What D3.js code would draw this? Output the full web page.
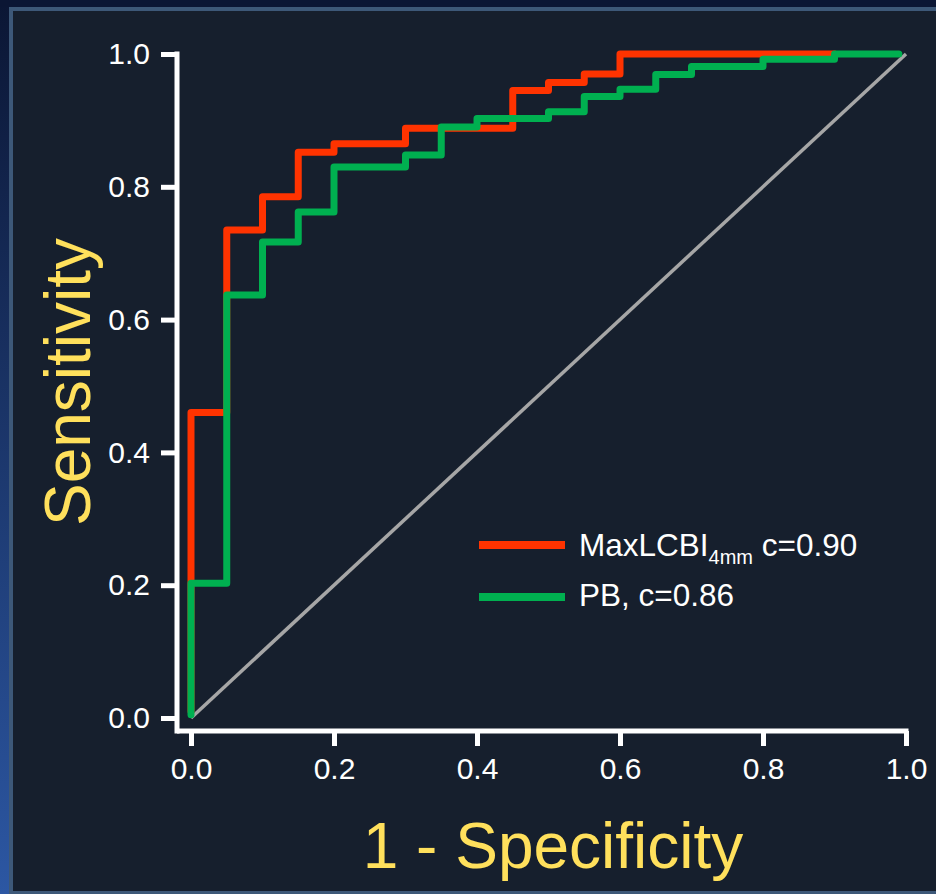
<!DOCTYPE html>
<html>
<head>
<meta charset="utf-8">
<script src="https://cdn.jsdelivr.net/npm/d3@7"></script>
<style>
  html, body { margin: 0; padding: 0; background: #0b1738; }
  svg { display: block; }
  text { font-family: "Liberation Sans", Arial, sans-serif; }
</style>
</head>
<body>
<div id="chart"></div>
<script>
// ROC step points (1 - specificity, sensitivity)
var redFpr   = [0, 0, 0.05, 0.10, 0.15, 0.20, 0.30, 0.45, 0.50, 0.55, 0.60, 0.90];
var redTpr   = [0.01, 0.46, 0.735, 0.785, 0.852, 0.865, 0.888, 0.945, 0.957, 0.970, 1.0, 1.0];
var greenFpr = [0, 0, 0.05, 0.10, 0.15, 0.20, 0.30, 0.35, 0.40, 0.50, 0.55, 0.60, 0.65, 0.70, 0.80, 0.90, 0.99];
var greenTpr = [0.005, 0.203, 0.637, 0.717, 0.762, 0.830, 0.848, 0.890, 0.903, 0.913, 0.936, 0.947, 0.969, 0.981, 0.992, 1.0, 1.0];
var refFpr   = [0, 1];
var refTpr   = [0, 1];
var tickVals = [0, 0.2, 0.4, 0.6, 0.8, 1.0];
var legendNames = ["MaxLCBI", "PB, c=0.86"];

var W = 936, H = 894;
var svg = d3.select("#chart").append("svg").attr("width", W).attr("height", H);

// background: outer gradient, border, inner panel
var defs = svg.append("defs");
var grad = defs.append("linearGradient").attr("id", "outer")
  .attr("x1", 0).attr("y1", 0).attr("x2", 0).attr("y2", 1);
grad.append("stop").attr("offset", "0%").attr("stop-color", "#0b1634");
grad.append("stop").attr("offset", "100%").attr("stop-color", "#2c57a3");
svg.append("rect").attr("width", W).attr("height", H).attr("fill", "url(#outer)");
svg.append("rect").attr("x", 0).attr("y", 0).attr("width", W).attr("height", 7).attr("fill", "#0b1634");
svg.append("rect").attr("x", 9).attr("y", 7).attr("width", W - 9).attr("height", H - 7).attr("fill", "#3d5878");
svg.append("rect").attr("x", 13).attr("y", 11).attr("width", W - 13).attr("height", H - 14).attr("fill", "#161f2d");

var x = d3.scaleLinear().domain([0, 1]).range([191, 906]);
var y = d3.scaleLinear().domain([0, 1]).range([718, 54]);
var axisX = 177, axisY = 731;

// y axis
var gy = svg.append("g").attr("transform", "translate(" + axisX + ",0)")
  .call(d3.axisLeft(y).tickValues(tickVals).tickSize(16).tickSizeOuter(0).tickPadding(11)
    .tickFormat(d3.format(".1f")));
gy.select(".domain").remove();
gy.selectAll(".tick line").attr("stroke", "#fff").attr("stroke-width", 5);
gy.selectAll(".tick text").attr("fill", "#fff").style("font-size", "30px");
gy.append("line").attr("x1", 0).attr("x2", 0).attr("y1", y(1) - 2.5).attr("y2", axisY + 2.5)
  .attr("stroke", "#fff").attr("stroke-width", 5);

// x axis
var gx = svg.append("g").attr("transform", "translate(0," + axisY + ")")
  .call(d3.axisBottom(x).tickValues(tickVals).tickSize(15).tickSizeOuter(0).tickPadding(12)
    .tickFormat(d3.format(".1f")));
gx.select(".domain").remove();
gx.selectAll(".tick line").attr("stroke", "#fff").attr("stroke-width", 5);
gx.selectAll(".tick text").attr("fill", "#fff").style("font-size", "30px");
gx.append("line").attr("x1", axisX).attr("x2", x(1) + 2.5).attr("y1", 0).attr("y2", 0)
  .attr("stroke", "#fff").attr("stroke-width", 5);

// reference diagonal
var straight = d3.line().x(function (d) { return x(d[0]); }).y(function (d) { return y(d[1]); });
svg.append("path").datum(d3.zip(refFpr, refTpr)).attr("d", straight)
  .attr("fill", "none").attr("stroke", "#a6a6a6").attr("stroke-width", 3.5);

// ROC curves
var step = d3.line().curve(d3.curveStepAfter)
  .x(function (d) { return x(d[0]); }).y(function (d) { return y(d[1]); });
svg.append("path").datum(d3.zip(redFpr, redTpr)).attr("d", step)
  .attr("fill", "none").attr("stroke", "#ff3300").attr("stroke-width", 7)
  .attr("stroke-linejoin", "round").attr("stroke-linecap", "round");
svg.append("path").datum(d3.zip(greenFpr, greenTpr)).attr("d", step)
  .attr("fill", "none").attr("stroke", "#00b050").attr("stroke-width", 7)
  .attr("stroke-linejoin", "round").attr("stroke-linecap", "round");

// legend
var lg = svg.append("g");
lg.append("line").attr("x1", 479).attr("x2", 565).attr("y1", 545).attr("y2", 545)
  .attr("stroke", "#ff3300").attr("stroke-width", 8);
lg.append("line").attr("x1", 479).attr("x2", 565).attr("y1", 597).attr("y2", 597)
  .attr("stroke", "#00b050").attr("stroke-width", 8);
var t1 = lg.append("text").attr("x", 579).attr("y", 556).attr("fill", "#fff").style("font-size", "31.5px");
t1.append("tspan").text(legendNames[0]);
t1.append("tspan").attr("dy", 8).style("font-size", "20px").text("4mm");
t1.append("tspan").attr("dy", -8).text(" c=0.90");
lg.append("text").attr("x", 579).attr("y", 606).attr("fill", "#fff").style("font-size", "31.5px")
  .text(legendNames[1]);

// axis titles
svg.append("text").attr("transform", "translate(90,382) rotate(-90)")
  .attr("text-anchor", "middle").attr("fill", "#ffe05c").style("font-size", "64px")
  .text("Sensitivity");
svg.append("text").attr("x", 553).attr("y", 868)
  .attr("text-anchor", "middle").attr("fill", "#ffe05c").style("font-size", "64px")
  .text("1 - Specificity");
</script>
</body>
</html>
